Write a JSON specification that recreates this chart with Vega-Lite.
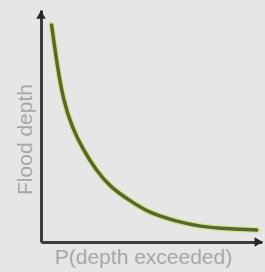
{
  "$schema": "https://vega.github.io/schema/vega-lite/v6.json",
  "width": 221,
  "height": 232,
  "autosize": {"type": "none"},
  "padding": {"left": 41, "top": 10, "right": 3, "bottom": 30},
  "background": "#e6e6e7",
  "config": {"view": {"stroke": null}, "font": "Liberation Sans"},
  "datasets": {
    "curve": [
      {"p": 0.048, "d": 0.935},
      {"p": 0.074, "d": 0.756},
      {"p": 0.101, "d": 0.612},
      {"p": 0.139, "d": 0.497},
      {"p": 0.191, "d": 0.397},
      {"p": 0.249, "d": 0.31},
      {"p": 0.312, "d": 0.238},
      {"p": 0.403, "d": 0.177},
      {"p": 0.493, "d": 0.124},
      {"p": 0.606, "d": 0.091},
      {"p": 0.719, "d": 0.066},
      {"p": 0.855, "d": 0.056},
      {"p": 0.976, "d": 0.052}
    ],
    "arrows": [
      {"p": 0, "d": 0.98, "shape": "triangle-up"},
      {"p": 0.985, "d": 0, "shape": "triangle-right"}
    ]
  },
  "layer": [
    {
      "data": {"name": "curve"},
      "mark": {"type": "line", "interpolate": "basis", "color": "#d6e28e", "strokeWidth": 6, "strokeCap": "round"},
      "encoding": {
        "x": {"field": "p", "type": "quantitative", "scale": {"domain": [0, 1], "nice": false, "zero": false},
          "axis": {"title": "P(depth exceeded)", "domain": true, "domainColor": "#3c3c3c", "domainWidth": 3, "ticks": false, "labels": false, "grid": false,
            "titleFontSize": 21, "titleFontWeight": "normal", "titleColor": "#a8a8a8", "titlePadding": 4, "titleX": 102}},
        "y": {"field": "d", "type": "quantitative", "scale": {"domain": [0, 1], "nice": false, "zero": false},
          "axis": {"title": "Flood depth", "domain": true, "domainColor": "#3c3c3c", "domainWidth": 3, "ticks": false, "labels": false, "grid": false,
            "titleFontSize": 21, "titleFontWeight": "normal", "titleColor": "#a8a8a8", "titlePadding": 6, "titleY": 129}}
      }
    },
    {
      "data": {"name": "curve"},
      "mark": {"type": "line", "interpolate": "basis", "color": "#56672f", "strokeWidth": 3.5, "strokeCap": "round"},
      "encoding": {
        "x": {"field": "p", "type": "quantitative"},
        "y": {"field": "d", "type": "quantitative"}
      }
    },
    {
      "data": {"name": "arrows"},
      "mark": {"type": "point", "filled": true, "color": "#262626", "size": 90, "opacity": 1},
      "encoding": {
        "x": {"field": "p", "type": "quantitative"},
        "y": {"field": "d", "type": "quantitative"},
        "shape": {"field": "shape", "type": "nominal", "scale": null, "legend": null}
      }
    }
  ]
}
